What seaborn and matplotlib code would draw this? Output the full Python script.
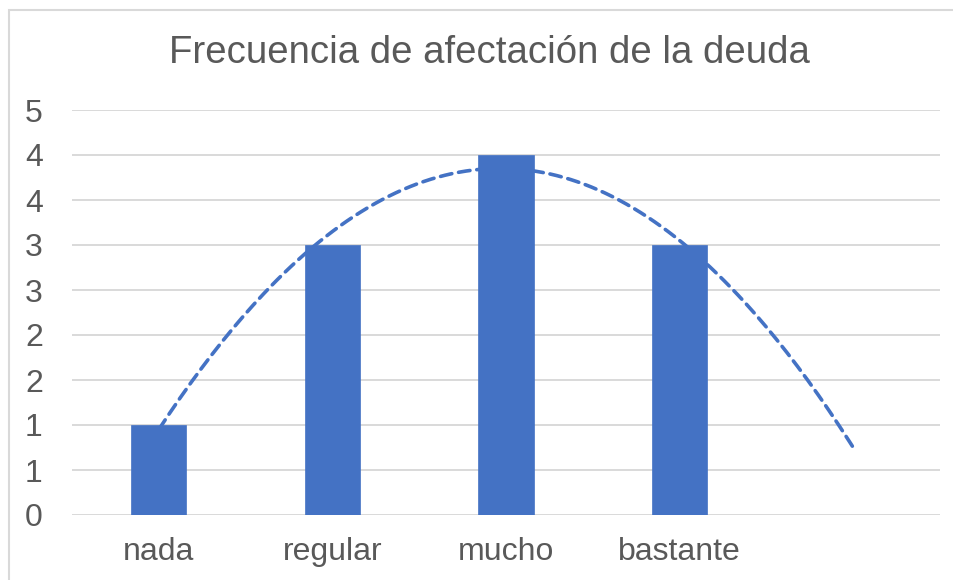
import numpy as np
import pandas as pd
import matplotlib
matplotlib.use("Agg")
import matplotlib.pyplot as plt
from matplotlib.patches import Rectangle
import seaborn as sns

# Data
categorias = ["nada", "regular", "mucho", "bastante"]
frecuencia = [1, 3, 4, 3]
y_ticks = [0, 0.5, 1, 1.5, 2, 2.5, 3, 3.5, 4, 4.5]

BAR = "#4472C4"
GRID = "#D9D9D9"
TXT = "#595959"

sns.set_theme(style="white")
plt.rcParams["font.family"] = ["Liberation Sans", "DejaVu Sans"]

W, H = 954, 580
fig = plt.figure(figsize=(W / 100, H / 100), dpi=100)
fig.patch.set_facecolor("white")

# plot area in pixel coordinates
x0, x1, ytop, ybot = 72, 940, 110, 515
ax = fig.add_axes([x0 / W, 1 - ybot / H, (x1 - x0) / W, (ybot - ytop) / H])

df = pd.DataFrame({"cat": categorias, "val": frecuencia})
orden = categorias + [" "]  # extra slot for the forward-projected trendline
sns.barplot(data=df, x="cat", y="val", order=orden, color=BAR, width=0.317,
            saturation=1, ax=ax, zorder=3, edgecolor=BAR, linewidth=0.5)

# second-order polynomial trendline, projected one period forward
xs = np.arange(1, len(frecuencia) + 1)
coef = np.polyfit(xs, frecuencia, 2)
xt = np.linspace(1, len(frecuencia) + 1, 200)
yt = np.polyval(coef, xt)
ax.plot(xt - 1, yt, color=BAR, lw=2.6, ls=(0, (3.2, 1.9)), zorder=2,
        dash_capstyle="round")

ax.set_xlim(-0.5, len(orden) - 0.5)
ax.set_ylim(0, 4.5)
ax.set_yticks(y_ticks)
ax.set_yticklabels([str(int(np.floor(v + 0.5))) for v in y_ticks])
for v in y_ticks:
    ax.axhline(v, color=GRID, lw=1.4, zorder=1)

ax.set_xlabel("")
ax.set_ylabel("")
for s in ax.spines.values():
    s.set_visible(False)
ax.tick_params(axis="both", length=0, colors=TXT, labelsize=23)
ax.tick_params(axis="y", pad=21)
ax.tick_params(axis="x", pad=16)
ax.set_xticks(range(len(orden)))
ax.set_xticklabels(orden)

fig.text(489 / W, 1 - 53 / H, "Frecuencia de afectación de la deuda",
         ha="center", va="center", fontsize=27.6, color=TXT)

# chart-area border
fig.patches.append(Rectangle((9 / W, -0.1), 1.2, 1 - 10 / H + 0.1,
                             transform=fig.transFigure, fill=False,
                             edgecolor=GRID, lw=1.5))

fig.savefig("out.png", dpi=100, facecolor="white")
